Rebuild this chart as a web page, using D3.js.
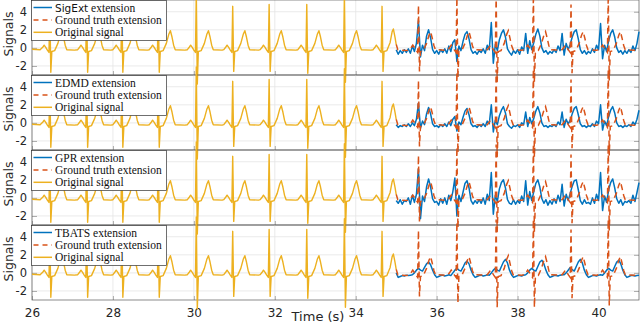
<!DOCTYPE html>
<html>
<head>
<meta charset="utf-8">
<script src="https://cdn.jsdelivr.net/npm/d3@7"></script>
<style>
  body { margin: 0; background: #fff; }
  svg { display: block; }
</style>
</head>
<body>
<script>

// ORIGINAL SIGNAL (time s, value)
var origSignal = [
  [26.00,-0.15],[26.20,-0.2],[26.27,0.1],[26.30,0.3],[26.34,0.05],[26.38,-0.25],[26.42,-0.5],[26.44,4.5],[26.465,-2.7],[26.49,-0.4],[26.56,-0.3],[26.64,0.5],[26.70,1.5],[26.74,1.9],[26.78,1.2],[26.82,0.3],[26.86,-0.2],[27.05,-0.25],
  [27.13,-0.2],[27.18,0.1],[27.21,0.3],[27.25,0.05],[27.29,-0.25],[27.33,-0.5],[27.35,4.5],[27.375,-2.7],[27.40,-0.4],[27.47,-0.3],[27.55,0.5],[27.61,1.5],[27.65,1.9],[27.69,1.2],[27.73,0.3],[27.77,-0.2],[27.95,-0.25],
  [28.00,-0.2],[28.05,0.1],[28.08,0.3],[28.12,0.05],[28.16,-0.25],[28.20,-0.5],[28.22,4.6],[28.245,-2.7],[28.27,-0.4],[28.34,-0.3],[28.42,0.5],[28.48,1.5],[28.52,1.9],[28.56,1.2],[28.60,0.3],[28.64,-0.2],[28.85,-0.25],
  [28.90,-0.2],[28.95,0.1],[28.98,0.3],[29.02,0.05],[29.06,-0.25],[29.10,-0.5],[29.12,4.6],[29.145,-2.7],[29.17,-0.4],[29.24,-0.3],[29.32,0.5],[29.38,1.5],[29.42,1.9],[29.46,1.2],[29.50,0.3],[29.54,-0.2],[29.78,-0.25],
  [29.84,-0.2],[29.89,0.1],[29.92,0.3],[29.96,0.05],[30.00,-0.25],[30.04,-0.5],[30.06,6.2],[30.085,-4.0],[30.11,-0.4],[30.18,-0.3],[30.26,0.5],[30.32,1.5],[30.36,1.9],[30.40,1.2],[30.44,0.3],[30.48,-0.2],[30.70,-0.25],
  [30.74,-0.2],[30.79,0.1],[30.82,0.3],[30.86,0.05],[30.90,-0.25],[30.94,-0.5],[30.96,4.6],[30.985,-2.6],[31.01,-0.4],[31.08,-0.3],[31.16,0.5],[31.22,1.5],[31.26,1.9],[31.30,1.2],[31.34,0.3],[31.38,-0.2],[31.60,-0.25],
  [31.64,-0.2],[31.69,0.1],[31.72,0.3],[31.76,0.05],[31.80,-0.25],[31.84,-0.5],[31.86,4.8],[31.885,-2.6],[31.91,-0.4],[31.98,-0.3],[32.06,0.5],[32.12,1.5],[32.16,1.9],[32.20,1.2],[32.24,0.3],[32.28,-0.2],[32.52,-0.25],
  [32.57,-0.2],[32.62,0.1],[32.65,0.3],[32.69,0.05],[32.73,-0.25],[32.77,-0.5],[32.79,4.8],[32.815,-2.8],[32.84,-0.4],[32.91,-0.3],[32.99,0.5],[33.05,1.5],[33.09,1.9],[33.13,1.2],[33.17,0.3],[33.21,-0.2],[33.45,-0.25],
  [33.50,-0.2],[33.55,0.1],[33.58,0.3],[33.62,0.05],[33.66,-0.25],[33.70,-0.5],[33.72,6.0],[33.745,-3.8],[33.77,-0.4],[33.84,-0.3],[33.92,0.5],[33.98,1.5],[34.02,1.9],[34.06,1.2],[34.10,0.3],[34.14,-0.2],[34.38,-0.25],
  [34.43,-0.2],[34.48,0.1],[34.51,0.3],[34.55,0.05],[34.59,-0.25],[34.63,-0.5],[34.65,4.6],[34.675,-2.6],[34.70,-0.4],[34.77,-0.3],[34.85,0.6],[34.90,1.8],[34.93,2.1],[34.97,1.2],[35.00,0.4]
];

// GROUND TRUTH EXTENSION (time s, value)
var truthExt = [
  [35.00,0.4],[35.04,-0.2],[35.25,-0.3],[35.33,-0.2],[35.38,0.1],[35.41,0.3],[35.45,0.05],[35.49,-0.25],[35.53,-0.5],[35.55,4.7],[35.575,-2.6],[35.60,-0.4],[35.67,-0.3],[35.75,0.5],[35.81,1.4],[35.85,1.8],[35.89,1.1],[35.93,0.3],[35.97,-0.2],[36.20,-0.25],
  [36.28,-0.2],[36.33,0.1],[36.36,0.3],[36.40,0.05],[36.44,-0.25],[36.48,-0.5],[36.50,5.6],[36.525,-3.3],[36.55,-0.4],[36.62,-0.3],[36.70,0.5],[36.76,1.4],[36.80,1.8],[36.84,1.1],[36.88,0.3],[36.92,-0.2],[37.15,-0.25],
  [37.25,-0.2],[37.30,0.1],[37.33,0.3],[37.37,0.05],[37.41,-0.25],[37.45,-0.5],[37.47,5.9],[37.495,-3.8],[37.52,-0.4],[37.59,-0.3],[37.67,0.5],[37.73,1.5],[37.77,1.9],[37.81,1.1],[37.85,0.3],[37.89,-0.2],[38.10,-0.25],
  [38.17,-0.2],[38.22,0.1],[38.25,0.3],[38.29,0.05],[38.33,-0.25],[38.37,-0.5],[38.39,5.9],[38.415,-3.8],[38.44,-0.4],[38.51,-0.3],[38.59,0.5],[38.65,1.4],[38.69,1.8],[38.73,1.1],[38.77,0.3],[38.81,-0.2],[39.03,-0.25],
  [39.10,-0.2],[39.15,0.1],[39.18,0.3],[39.22,0.05],[39.26,-0.25],[39.30,-0.5],[39.32,4.8],[39.345,-2.8],[39.37,-0.4],[39.44,-0.3],[39.52,0.5],[39.58,1.4],[39.62,1.8],[39.66,1.1],[39.70,0.3],[39.74,-0.2],[39.95,-0.25],
  [40.02,-0.2],[40.07,0.1],[40.10,0.3],[40.14,0.05],[40.18,-0.25],[40.22,-0.5],[40.24,5.9],[40.265,-3.6],[40.29,-0.4],[40.36,-0.3],[40.44,0.5],[40.50,1.4],[40.54,1.8],[40.58,1.1],[40.62,0.3],[40.66,-0.2],[40.90,-0.25],[41.00,-0.2]
];

// EXTENSIONS, sampled every 0.05 s from 35.00 to 41.00
var extStart = 35.0, extStep = 0.05;

var sigextExt = [
  -0.2,-0.7,-0.3,-0.6,-0.2,-0.5,-0.1,-0.6,0.2,-0.4,
  0.5,3.0,-1.0,0.3,-0.3,1.3,2.0,1.1,-0.2,-0.6,
  -0.3,-0.7,-0.2,-0.5,-0.1,-0.6,0.2,-0.4,0.6,0.9,
  -1.5,0.2,-0.3,0.7,1.5,1.8,1.0,-0.2,-0.6,-0.4,
  -0.7,-0.3,-0.5,-0.1,-0.6,0.3,-0.2,2.8,-1.7,0.4,
  -0.3,0.9,1.6,2.0,1.2,-0.1,-0.5,-0.8,-0.3,-0.6,
  -0.2,-0.7,0.1,-0.3,1.6,-0.6,0.8,-0.2,0.6,1.5,
  2.1,1.3,0.0,-0.5,-0.3,-0.7,-0.4,-0.6,-0.2,-0.5,
  0.2,-0.3,1.6,-0.8,0.5,-0.2,0.4,1.2,1.8,2.0,
  1.0,-0.2,-0.6,-0.3,-0.7,-0.4,-0.6,-0.1,-0.5,0.3,
  -0.2,2.7,-1.2,0.3,-0.4,0.8,1.6,2.0,1.2,0.0,
  -0.5,-0.3,-0.7,-0.3,-0.6,-0.2,-0.5,0.2,-0.3,0.5,
  1.8
];

var edmdExt = [
  -0.2,-0.5,-0.3,-0.4,-0.2,-0.4,-0.1,-0.4,0.0,-0.3,
  0.4,2.2,-0.6,0.2,-0.2,1.0,1.7,1.0,-0.1,-0.4,
  -0.3,-0.5,-0.2,-0.4,-0.1,-0.4,0.1,-0.3,0.4,0.7,
  -0.9,0.1,-0.2,0.6,1.3,1.6,0.9,-0.1,-0.4,-0.3,
  -0.5,-0.2,-0.4,-0.1,-0.4,0.2,-0.1,2.0,-1.0,0.3,
  -0.2,0.8,1.4,1.8,1.1,-0.1,-0.4,-0.6,-0.3,-0.4,
  -0.2,-0.5,0.0,-0.2,1.2,-0.4,0.6,-0.1,0.5,1.3,
  1.8,1.1,0.0,-0.4,-0.3,-0.5,-0.3,-0.4,-0.2,-0.4,
  0.1,-0.2,1.2,-0.5,0.4,-0.1,0.3,1.0,1.6,1.8,
  0.9,-0.1,-0.4,-0.3,-0.5,-0.3,-0.4,-0.1,-0.4,0.2,
  -0.1,2.0,-0.8,0.2,-0.3,0.7,1.4,1.8,1.1,0.0,
  -0.4,-0.3,-0.5,-0.3,-0.4,-0.2,-0.4,0.1,-0.2,0.4,
  1.4
];

var gprExt = [
  -0.3,-0.6,-0.2,-0.7,-0.3,-0.4,0.0,-0.7,0.3,-0.5,
  0.4,3.2,-2.3,0.2,-0.4,1.2,2.1,1.2,-0.1,-0.5,
  -0.4,-0.8,-0.1,-0.6,0.0,-0.7,0.3,-0.3,0.7,2.2,
  -2.0,0.3,-0.4,0.6,1.6,1.9,1.1,-0.3,-0.7,-0.3,
  -0.6,-0.2,-0.6,0.0,-0.7,0.4,-0.3,2.8,-1.8,0.3,
  -0.4,1.0,1.7,2.0,1.1,-0.2,-0.6,-0.7,-0.2,-0.7,
  -0.3,-0.6,0.2,-0.4,1.9,-0.8,0.7,-0.3,0.7,1.6,
  2.0,1.2,-0.1,-0.6,-0.2,-0.8,-0.3,-0.7,-0.1,-0.6,
  0.3,-0.4,1.5,-0.9,0.4,-0.3,0.5,1.3,1.9,2.0,
  0.9,-0.3,-0.7,-0.2,-0.6,-0.5,-0.7,0.0,-0.6,0.4,
  -0.3,2.8,-1.4,0.2,-0.5,0.9,1.7,2.1,1.1,-0.1,
  -0.6,-0.2,-0.8,-0.4,-0.5,-0.3,-0.6,0.3,-0.4,0.6,
  1.7
];

var tbatsExt = [
  0.0,-0.5,-0.4,-0.3,-0.35,-0.25,-0.3,-0.25,-0.2,
  0.0,0.3,0.5,0.3,0.2,0.6,1.0,1.2,0.9,0.3,-0.2,-0.5,-0.4,-0.3,-0.25,-0.35,-0.3,-0.2,-0.3,0.0,
  0.3,0.5,0.3,0.2,0.6,1.1,1.3,1.0,0.3,-0.2,-0.5,-0.4,-0.3,-0.25,-0.35,-0.3,-0.2,-0.25,0.0,
  0.3,0.5,0.3,0.2,0.7,1.2,1.5,1.1,0.3,-0.2,-0.5,-0.4,-0.3,-0.3,-0.35,-0.25,-0.2,0.0,
  0.3,0.5,0.3,0.2,0.7,1.2,1.4,1.0,0.3,-0.2,-0.5,-0.4,-0.3,-0.3,-0.35,-0.25,-0.2,-0.2,0.0,
  0.3,0.6,0.35,0.2,0.7,1.2,1.5,1.1,0.3,-0.2,-0.5,-0.4,-0.3,-0.3,-0.35,-0.25,-0.2,-0.25,0.0,
  0.3,0.5,0.3,0.2,0.7,1.2,1.4,1.0,0.3,-0.2,-0.5,-0.4,-0.3,-0.3,-0.35,-0.3,-0.25
];

var methodNames = ["SigExt", "EDMD", "GPR", "TBATS"];
var methodExts = [sigextExt, edmdExt, gprExt, tbatsExt];

var xTicks = [26, 28, 30, 32, 34, 36, 38, 40];
var yTicks = [-2, 0, 2, 4];

var BLUE = "#0072BD", RED = "#D95319", YELLOW = "#EDB120";

window.onload = function () {
  DrawChart();
};

function DrawChart() {
  var width = 640, height = 324;
  var panelTop = [0, 75, 150, 225], panelH = 75;

  var svg = d3.select("body").append("svg")
    .attr("width", width)
    .attr("height", height);

  var x = d3.scaleLinear().domain([26, 41]).range([32, 639]);
  var plain = function (d) { return String(d); };

  for (var p = 0; p < 4; p++) {
    var top = panelTop[p];
    var y = d3.scaleLinear().domain([-3, 5.3]).range([top + panelH, top]);
    var g = svg.append("g");

    //GRID
    g.append("g").selectAll("line").data(xTicks).enter().append("line")
      .attr("x1", function (d) { return x(d); })
      .attr("x2", function (d) { return x(d); })
      .attr("y1", top).attr("y2", top + panelH)
      .style("stroke", "#e5e5e5").style("stroke-width", 0.8);
    g.append("g").selectAll("line").data(yTicks).enter().append("line")
      .attr("x1", x(26)).attr("x2", x(41))
      .attr("y1", function (d) { return y(d); })
      .attr("y2", function (d) { return y(d); })
      .style("stroke", "#e5e5e5").style("stroke-width", 0.8);

    //AXES (ticks inside, box all round)
    var yAxisL = d3.axisLeft(y).tickValues(yTicks).tickSize(-5).tickPadding(5).tickFormat(plain);
    var yAxisR = d3.axisRight(y).tickValues(yTicks).tickSize(-5).tickFormat("");
    var xAxisB = d3.axisBottom(x).tickValues(xTicks).tickSize(-4).tickPadding(8)
      .tickFormat(p == 3 ? plain : "");

    var ga = g.append("g").attr("transform", "translate(" + x(26) + ",0)").call(yAxisL);
    g.append("g").attr("transform", "translate(" + x(41) + ",0)").call(yAxisR);
    var gx = g.append("g").attr("transform", "translate(0," + (top + panelH) + ")").call(xAxisB);
    ga.selectAll("text").style("font-family", "DejaVu Sans").style("font-size", "11.5px").style("fill", "#262626");
    gx.selectAll("text").style("font-family", "DejaVu Sans").style("font-size", "12px").style("fill", "#262626");
    g.selectAll(".domain").remove();
    g.selectAll(".tick line").style("stroke", "#777").style("stroke-width", 0.6);

    g.append("rect")
      .attr("x", x(26)).attr("y", top)
      .attr("width", x(41) - x(26)).attr("height", panelH)
      .style("fill", "none").style("stroke", "#5a5a5a").style("stroke-width", 0.7);

    //LINES
    var line = d3.line()
      .x(function (d) { return x(d[0]); })
      .y(function (d) { return y(d[1]); });

    var ext = methodExts[p].map(function (v, i) { return [extStart + i * extStep, v]; });

    g.append("path").datum(ext).attr("d", line)
      .style("fill", "none").style("stroke", BLUE).style("stroke-width", 1.5)
      .style("stroke-linejoin", "round");
    g.append("path").datum(truthExt).attr("d", line)
      .style("fill", "none").style("stroke", RED).style("stroke-width", 1.5)
      .style("stroke-dasharray", "6,4");
    g.append("path").datum(origSignal).attr("d", line)
      .style("fill", "none").style("stroke", YELLOW).style("stroke-width", 1.4)
      .style("stroke-linejoin", "round");

    //Y LABEL
    svg.append("text")
      .attr("transform", "translate(12.5," + (top + 34) + ") rotate(-90)")
      .attr("text-anchor", "middle")
      .style("font-family", "DejaVu Sans").style("font-size", "12.5px").style("fill", "#262626")
      .text("Signals");

    //LEGEND
    var lg = svg.append("g");
    lg.append("rect")
      .attr("x", 31.5).attr("y", top + 0.5).attr("width", 135).attr("height", 40)
      .style("fill", "#fff").style("stroke", "#333").style("stroke-width", 0.7);
    var rows = [
      { label: " extension", name: methodNames[p], color: BLUE, dash: null },
      { label: "Ground truth extension", color: RED, dash: "5,4" },
      { label: "Original signal", color: YELLOW, dash: null }
    ];
    rows.forEach(function (r, i) {
      var ry = top + 7.5 + i * 12.4;
      lg.append("line").attr("x1", 33.5).attr("x2", 52).attr("y1", ry).attr("y2", ry)
        .style("stroke", r.color).style("stroke-width", 1.5)
        .style("stroke-dasharray", r.dash);
      var t = lg.append("text").attr("x", 55).attr("y", ry).attr("dy", "0.35em")
        .style("font-family", "Liberation Serif").style("font-size", "11.5px").style("fill", "#111");
      if (r.name) {
        t.append("tspan").text(r.name)
          .style("font-family", r.name == "SigExt" ? "DejaVu Sans" : "Liberation Serif")
          .style("font-size", r.name == "SigExt" ? "10.5px" : "11.5px");
        t.append("tspan").text(r.label);
      } else {
        t.text(r.label);
      }
    });
  }

  //X LABEL
  svg.append("text")
    .attr("x", 318).attr("y", 321)
    .attr("text-anchor", "middle")
    .style("font-family", "DejaVu Sans").style("font-size", "13px").style("fill", "#262626")
    .text("Time (s)");
}
</script>
</body>
</html>
